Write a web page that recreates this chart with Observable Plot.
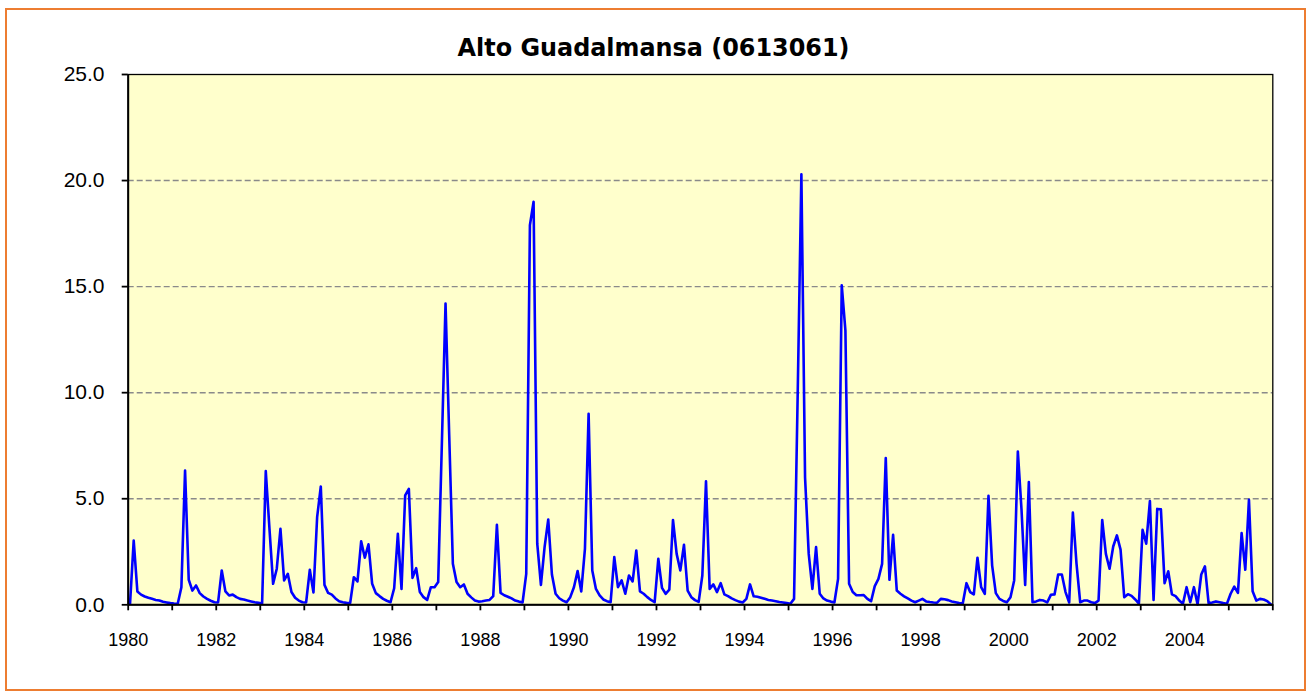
<!DOCTYPE html>
<html>
<head>
<meta charset="utf-8">
<script src="https://cdn.jsdelivr.net/npm/d3@7"></script>
<script src="https://cdn.jsdelivr.net/npm/@observablehq/plot@0.6"></script>
<style>
  html, body { margin: 0; padding: 0; background: #ffffff; }
  #wrap { position: relative; width: 1307px; height: 699px; overflow: hidden; background: #ffffff; }
  #border { position: absolute; left: 5px; top: 8px; width: 1297px; height: 679px; border: 2px solid #ED7D31; }
  #title { position: absolute; left: 0; top: 35px; width: 1307px; text-align: center;
           font-family: 'DejaVu Sans', Verdana, sans-serif; font-weight: bold; font-size: 23.9px; line-height: 26px; color: #000; }
  #chart { position: absolute; left: 0; top: 0; }
</style>
</head>
<body>
<div id="wrap">
  <div id="border"></div>
  <div id="chart"></div>
  <div id="title">Alto Guadalmansa (0613061)</div>
</div>
<script>
// Monthly flow series, Jan 1980 .. Dec 2005
const startYear = 1980;
const monthlyFlow = [
  0.05, 3.03, 0.63, 0.48, 0.39, 0.33, 0.28, 0.23, 0.20, 0.14, 0.11, 0.08,   // 1980
  0.06, 0.05, 0.83, 6.33, 1.18, 0.67, 0.91, 0.55, 0.39, 0.28, 0.19, 0.12,   // 1981
  0.11, 1.62, 0.63, 0.44, 0.48, 0.36, 0.28, 0.25, 0.20, 0.16, 0.12, 0.09,   // 1982
  0.06, 6.30, 3.60, 0.99, 1.70, 3.58, 1.15, 1.46, 0.60, 0.33, 0.20, 0.12,   // 1983
  0.11, 1.65, 0.58, 4.13, 5.58, 0.94, 0.56, 0.48, 0.30, 0.17, 0.12, 0.09,   // 1984
  0.08, 1.30, 1.10, 2.99, 2.22, 2.85, 0.99, 0.55, 0.41, 0.28, 0.19, 0.12,   // 1985
  0.78, 3.35, 0.75, 5.16, 5.47, 1.27, 1.73, 0.60, 0.36, 0.23, 0.83, 0.83,   // 1986
  1.07, 7.60, 14.20, 8.00, 1.93, 1.07, 0.83, 0.96, 0.52, 0.35, 0.20, 0.15,  // 1987
  0.17, 0.20, 0.23, 0.41, 3.77, 0.56, 0.45, 0.38, 0.30, 0.20, 0.15, 0.11,   // 1988
  1.46, 17.90, 19.00, 2.88, 0.94, 2.72, 4.02, 1.43, 0.52, 0.31, 0.20, 0.12, // 1989
  0.36, 0.83, 1.59, 0.63, 2.64, 9.00, 1.62, 0.75, 0.44, 0.25, 0.17, 0.12,   // 1990
  2.25, 0.83, 1.15, 0.52, 1.38, 1.10, 2.56, 0.63, 0.52, 0.36, 0.23, 0.12,   // 1991
  2.17, 0.80, 0.52, 0.71, 4.00, 2.40, 1.62, 2.83, 0.67, 0.36, 0.22, 0.14,   // 1992
  1.38, 5.82, 0.75, 0.96, 0.60, 1.02, 0.49, 0.41, 0.30, 0.22, 0.15, 0.11,   // 1993
  0.28, 0.96, 0.40, 0.38, 0.33, 0.28, 0.23, 0.20, 0.17, 0.13, 0.11, 0.08,   // 1994
  0.05, 0.28, 10.00, 20.30, 6.00, 2.40, 0.75, 2.72, 0.52, 0.30, 0.20, 0.15, // 1995
  0.11, 1.22, 15.06, 12.94, 0.99, 0.60, 0.45, 0.45, 0.46, 0.28, 0.17, 0.88, // 1996
  1.22, 1.93, 6.92, 1.18, 3.30, 0.67, 0.52, 0.40, 0.30, 0.20, 0.12, 0.20,   // 1997
  0.28, 0.16, 0.13, 0.11, 0.10, 0.28, 0.26, 0.22, 0.16, 0.12, 0.08, 0.07,   // 1998
  1.02, 0.60, 0.49, 2.22, 0.83, 0.52, 5.14, 1.85, 0.55, 0.28, 0.18, 0.12,   // 1999
  0.36, 1.15, 7.23, 4.50, 0.94, 5.79, 0.12, 0.16, 0.23, 0.20, 0.11, 0.47,   // 2000
  0.49, 1.43, 1.43, 0.60, 0.11, 4.35, 1.93, 0.12, 0.20, 0.20, 0.12, 0.08,   // 2001
  0.20, 4.00, 2.40, 1.70, 2.75, 3.27, 2.60, 0.36, 0.50, 0.42, 0.25, 0.06,   // 2002
  3.54, 2.88, 4.89, 0.23, 4.52, 4.50, 1.02, 1.58, 0.49, 0.41, 0.20, 0.05,   // 2003
  0.83, 0.12, 0.83, 0.02, 1.43, 1.81, 0.08, 0.11, 0.16, 0.12, 0.08, 0.05,   // 2004
  0.52, 0.86, 0.56, 3.38, 1.65, 4.95, 0.64, 0.20, 0.28, 0.25, 0.17, 0.02    // 2005
];
const yTicks = [0, 5, 10, 15, 20, 25];
const gridValues = [5, 10, 15, 20];
const xTickYears = [1980,1981,1982,1983,1984,1985,1986,1987,1988,1989,1990,1991,1992,1993,
                    1994,1995,1996,1997,1998,1999,2000,2001,2002,2003,2004,2005,2006];
const xLabelYears = [1980,1982,1984,1986,1988,1990,1992,1994,1996,1998,2000,2002,2004];

const data = monthlyFlow.map((v, i) => ({ t: startYear + (i + 0.5) / 12, v }));

const chart = Plot.plot({
  width: 1307,
  height: 699,
  marginLeft: 127.7,
  marginRight: 34.7,
  marginTop: 74,
  marginBottom: 94.7,
  x: { domain: [1980, 2006], label: null },
  y: { domain: [0, 25], label: null },
  style: { fontFamily: "'Liberation Sans', Arial, sans-serif", color: "#000", background: "transparent", overflow: "visible" },
  marks: [
    Plot.frame({ fill: "#FFFFCC" }),
    Plot.gridY(gridValues, { stroke: "#8a8a8a", strokeOpacity: 1, strokeWidth: 1.4, strokeDasharray: "6,3" }),
    Plot.line(data, { x: "t", y: "v", stroke: "#0000FF", strokeWidth: 2.6 }),
    Plot.frame({ stroke: "#000", strokeWidth: 1.3 }),
    Plot.ruleX([1980], { stroke: "#000", strokeWidth: 2 }),
    Plot.ruleY([0], { stroke: "#000", strokeWidth: 2 }),
    Plot.axisY(yTicks, { tickFormat: d => d.toFixed(1), tickSize: 6, tickPadding: 17.7, fontSize: 21, strokeWidth: 1.8, label: null }),
    Plot.axisX(xTickYears, { tickFormat: () => "", tickSize: 6, strokeWidth: 1.8, label: null }),
    Plot.axisX(xLabelYears, { tickFormat: d => String(d), tickSize: 0, tickPadding: 28.4, fontSize: 18, label: null })
  ]
});
document.getElementById("chart").appendChild(chart);
</script>
</body>
</html>
